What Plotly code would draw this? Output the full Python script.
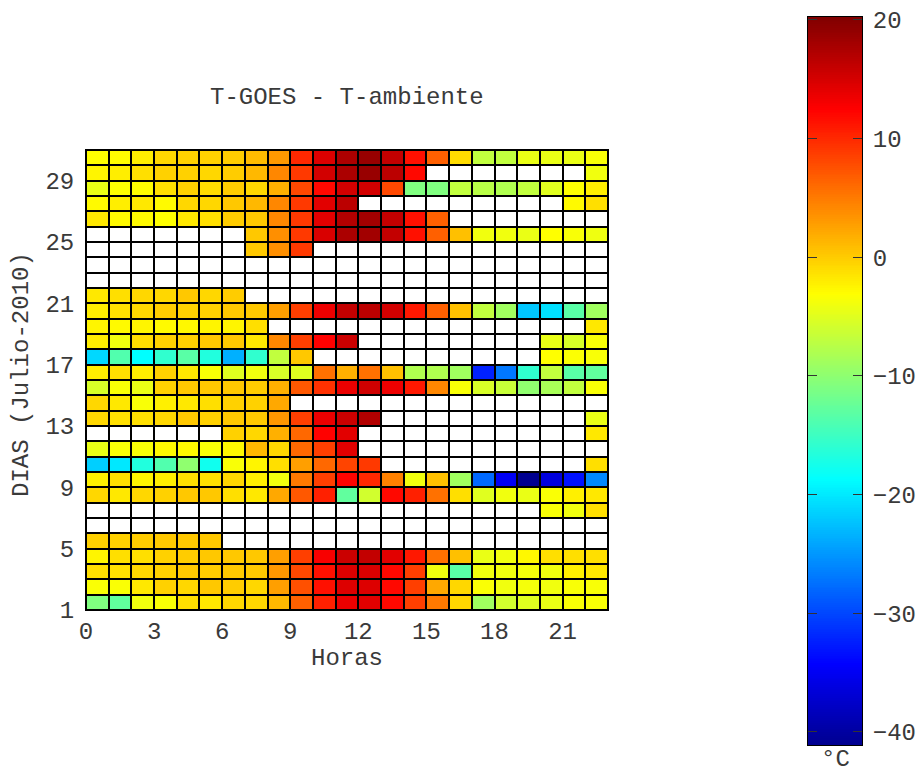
import plotly.graph_objects as go

# Diferencia T-GOES - T-ambiente (°C), julio 2010: una fila por día, una columna por hora
N = None
d01 = [-10.9, -12.8, -4.0, -3.4, -1.2, -1.7, -0.7, -0.7, 1.2, 6.6, 10.5, 13.7, 14.2, 12.0, 8.6, 5.1, -0.7, -8.9, -5.9, -5.0, -4.4, -3.4, -3.4]
d02 = [-3.4, -3.4, -1.7, -0.3, -0.7, 0.2, 0.0, -0.7, 2.7, 7.6, 11.5, 14.5, 14.5, 12.0, 8.6, 2.2, -0.7, -3.4, -4.0, -3.7, -4.0, -3.5, -3.5]
d03 = [-1.2, -1.2, -0.7, -0.3, 0.2, 0.0, 0.2, 0.2, 3.2, 8.1, 11.5, 14.5, 14.8, 12.0, 8.6, -4.0, -13.3, -4.0, -4.0, -3.7, -4.0, -2.2, -1.7]
d04 = [-2.5, -1.2, -1.2, -0.3, 0.0, 0.2, 0.2, 0.2, 2.7, 8.6, 12.9, 15.6, 16.1, 14.2, 11.0, 5.6, 0.7, -4.4, -4.0, -2.7, -1.2, -1.2, -1.2]
d05 = [-0.3, -0.3, 0.0, 0.2, 0.2, 0.2] + [N] * 17
d06 = [N] * 23
d07 = [N] * 20 + [-3.5, -4.0, -1.2]
d08 = [-0.7, -1.7, -0.7, -0.3, 0.2, 0.2, -1.2, -1.7, 2.2, 7.1, 10.5, -12.8, -5.9, 12.0, 10.5, 5.6, -1.2, -5.0, -4.0, -4.4, -3.4, -2.2, -1.7]
d09 = [-2.2, -1.2, -2.5, -2.1, -1.2, -1.2, -0.7, -2.2, -4.0, 5.1, 8.6, 12.2, 10.0, 4.6, -4.0, 0.7, -8.9, -27.9, -34.9, -41.1, -36.3, -33.3, -26.0]
d10 = [-21.6, -20.1, -16.7, -13.8, -9.9, -17.7, -3.5, -2.5, -1.2, 2.7, 6.1, 8.3, 9.0] + [N] * 9 + [-1.2]
d11 = [-4.4, -3.5, -3.5, -2.7, -2.7, -3.5, -2.7, 1.2, -0.7, 6.1, 8.6, 14.2] + [N] * 11
d12 = [N] * 6 + [-0.3, -0.7, 1.7, 6.1, 12.4, 14.2] + [N] * 10 + [-1.7]
d13 = [-0.7, -1.2, -1.2, -0.7, 0.2, -0.3, 0.2, 0.2, 3.2, 8.6, 13.7, 15.6, 17.1] + [N] * 9 + [-4.4]
d14 = [-0.7, -1.7, -3.5, -2.2, -1.7, -1.2, -0.3, -0.3, 2.2] + [N] * 14
d15 = [-5.5, -3.4, -4.4, -0.3, 0.2, 0.2, 0.2, 0.0, 1.7, 7.1, 9.5, 13.7, 15.4, 13.5, 11.0, 4.2, -3.5, -5.5, -6.5, -9.9, -8.4, -6.9, -3.4]
d16 = [-2.1, -1.2, -2.1, -0.3, -1.7, -3.4, -5.0, -4.0, -5.5, -5.0, 5.6, 1.7, 5.6, 0.7, -7.9, -7.9, -8.9, -32.3, -27.0, -15.8, -6.9, -13.3, -12.8]
d17 = [-21.1, -13.8, -18.7, -15.8, -13.3, -16.7, -23.5, -15.8, -6.9, 0.2] + [N] * 10 + [-3.1, -3.3, -3.5]
d18 = [-2.1, -4.0, -1.0, -0.3, -0.3, 0.2, 0.2, -1.7, 4.2, 8.6, 12.4, 15.6] + [N] * 8 + [-4.4, -5.5, -3.5]
d19 = [-2.5, -2.8, -2.5, -2.8, -2.7, -2.5, -2.5, -1.2] + [N] * 14 + [-1.7]
d20 = [-2.1, -1.2, -0.7, 0.0, -0.3, -0.3, 0.2, 0.2, 2.7, 8.6, 13.5, 16.1, 16.6, 15.2, 11.0, 6.6, 0.7, -6.9, -8.9, -22.1, -20.6, -13.3, -8.9]
d21 = [-1.7, -1.2, -0.7, -0.7, 0.2, -0.7, 0.0] + [N] * 16
d22 = [N] * 23
d23 = [N] * 23
d24 = [N] * 7 + [0.2, 3.7, 9.0] + [N] * 13
d25 = [N] * 7 + [0.2, 3.7, 9.0, 14.8, 17.6, 18.1, 16.1, 11.5, 6.6, 0.7, -4.0, -4.0, -4.4, -3.1, -3.5, -4.1]
d26 = [-1.7, -2.8, -2.8, -3.1, -1.7, -1.2, 0.0, 0.2, 4.2, 9.0, 14.2, 17.1, 18.1, 16.1, 11.5, 6.6] + [N] * 7
d27 = [-2.8, -2.1, -1.7, -2.8, -0.7, -0.7, 0.2, 1.2, 4.2, 9.0, 14.2, 16.6] + [N] * 9 + [-2.8, -1.2]
d28 = [-4.4, -3.2, -3.0, -1.2, -0.3, -1.0, 0.0, -0.7, 1.7, 8.1, 12.0, 15.2, 15.2, 8.1, -10.9, -10.9, -6.9, -7.4, -7.9, -6.9, -5.0, -3.2, -2.1]
d29 = [-2.5, -2.1, -1.2, -0.3, -0.3, -0.7, 0.0, 1.2, 4.2, 9.0, 15.2, 17.6, 18.7, 16.6, 12.0] + [N] * 7 + [-4.0]
d30 = [-3.1, -3.0, -2.1, -0.7, -0.3, -0.3, 0.0, 1.0, 3.1, 10.0, 14.5, 17.5, 18.7, 16.1, 11.5, 6.6, -1.0, -6.9, -6.9, -4.4, -4.4, -4.4, -3.5]

horas = list(range(0, 24))        # bordes de celda en horas
dias = list(range(1, 32))         # bordes de celda en días
horas_ticks = [0, 3, 6, 9, 12, 15, 18, 21]
dias_ticks = [1, 5, 9, 13, 17, 21, 25, 29]
escala_ticks = [-40, -30, -20, -10, 0, 10, 20]
t_min, t_max = -41.1, 20.25

z = [d01, d02, d03, d04, d05, d06, d07, d08, d09, d10,
     d11, d12, d13, d14, d15, d16, d17, d18, d19, d20,
     d21, d22, d23, d24, d25, d26, d27, d28, d29, d30]


def jet(m=64):
    n = m // 4
    u = [k / n for k in range(1, n + 1)] + [1.0] * (n - 1) + [k / n for k in range(n, 0, -1)]
    cols = []
    for i in range(1, m + 1):
        r = u[i - n - 8 - 1] if i >= n + 9 else 0.0
        g = u[i - 8 - 1] if 9 <= i <= 8 + len(u) else 0.0
        b = u[i + 8 - 1] if i + 8 <= len(u) else 0.0
        cols.append([(i - 1) / (m - 1),
                     "rgb(%d,%d,%d)" % (round(r * 255), round(g * 255), round(b * 255))])
    return cols


JET = jet(64)
FONT = dict(family="Liberation Mono, Courier New, monospace", size=24, color="#3a3a3a")
W, H = 922, 772


def px(x):
    return x / W


def py(y):
    return 1 - y / H


fig = go.Figure()

# fondo blanco de las celdas sin dato
fig.add_trace(go.Heatmap(
    x=horas, y=dias, z=[[0] * 23 for _ in range(30)],
    colorscale=[[0, "white"], [1, "white"]], showscale=False,
    xgap=2, ygap=2, hoverinfo="skip"))

fig.add_trace(go.Heatmap(
    x=horas, y=dias, z=z, colorscale=JET, zmin=t_min, zmax=t_max,
    showscale=False, xgap=2, ygap=2,
    hovertemplate="Hora %{x}<br>Día %{y}<br>%{z} °C<extra></extra>"))

# barra de color como eje propio
niveles = [t_min + (t_max - t_min) * k / 400 for k in range(401)]
centros = [(a + b) / 2 for a, b in zip(niveles[:-1], niveles[1:])]
fig.add_trace(go.Heatmap(
    x=[0, 1], y=niveles, z=[[c] for c in centros],
    colorscale=JET, zmin=t_min, zmax=t_max, showscale=False,
    xaxis="x2", yaxis="y2", hoverinfo="skip"))

fig.update_layout(
    width=W, height=H,
    margin=dict(l=0, r=0, t=0, b=0),
    paper_bgcolor="white", plot_bgcolor="black",
    font=FONT, showlegend=False,
    xaxis=dict(domain=[px(86), px(608)], range=[0, 23], tickvals=horas_ticks,
               showgrid=False, zeroline=False, showline=True, mirror=True,
               linecolor="black", linewidth=1, ticks="", ticklabelstandoff=-1,
               automargin=False),
    yaxis=dict(domain=[py(610), py(150)], range=[1, 31], tickvals=dias_ticks,
               showgrid=False, zeroline=False, showline=True, mirror=True,
               linecolor="black", linewidth=1, ticks="", ticklabelstandoff=6,
               automargin=False),
    xaxis2=dict(domain=[px(808), px(862)], range=[0, 1], anchor="y2",
                showgrid=False, zeroline=False, showticklabels=False,
                showline=True, mirror=True, linecolor="black", linewidth=1, ticks="",
                automargin=False),
    yaxis2=dict(domain=[py(745), py(17)], range=[t_min, t_max], anchor="x2",
                side="right", tickvals=escala_ticks, ticks="inside", ticklen=9,
                tickcolor="#333333", showgrid=False, zeroline=False,
                showline=True, mirror="ticks", linecolor="black", linewidth=1,
                ticklabelstandoff=5, automargin=False),
    annotations=[
        dict(text="T-GOES - T-ambiente", x=px(347), y=py(97), xref="paper", yref="paper",
             showarrow=False, font=FONT, xanchor="center", yanchor="middle"),
        dict(text="Horas", x=px(347), y=py(658), xref="paper", yref="paper",
             showarrow=False, font=FONT, xanchor="center", yanchor="middle"),
        dict(text="DIAS (Julio-2010)", x=px(22), y=py(375), xref="paper", yref="paper",
             showarrow=False, font=FONT, textangle=-90, xanchor="center", yanchor="middle"),
        dict(text="°C", x=px(835), y=py(759), xref="paper", yref="paper",
             showarrow=False, font=FONT, xanchor="center", yanchor="middle"),
    ],
)

fig.write_html("out.html")
